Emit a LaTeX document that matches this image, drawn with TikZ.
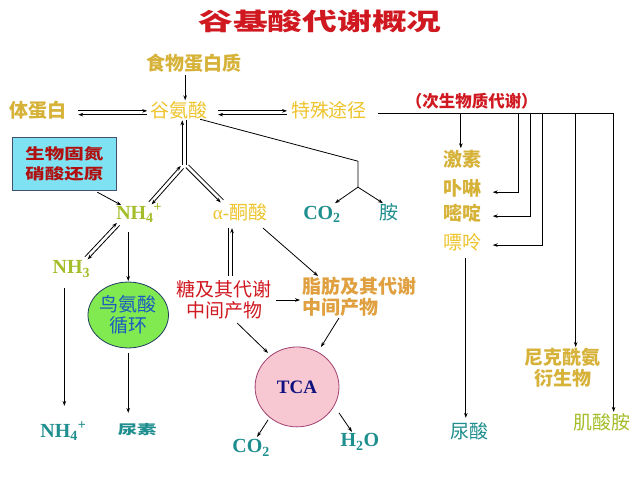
\documentclass[tikz,border=0pt]{standalone}
\usepackage{fontspec}
\setmainfont{Liberation Serif}
\newfontfamily\cjk{Noto Sans CJK SC}
\usetikzlibrary{arrows.meta,calc,shapes.geometric}
\definecolor{goldc}{HTML}{D6B238}
\definecolor{yelc}{HTML}{EEC42C}
\definecolor{tealc}{HTML}{1E8E8E}
\definecolor{limec}{HTML}{A4BE2A}
\definecolor{redc}{HTML}{D01820}
\definecolor{orgc}{HTML}{E0A040}
\definecolor{boxfill}{HTML}{7EE2F2}
\definecolor{boxline}{HTML}{405070}
\definecolor{ellfill}{HTML}{80EA50}
\definecolor{ellline}{HTML}{203C60}
\definecolor{bluec}{HTML}{1C5CC0}
\definecolor{tcafill}{HTML}{F8C8D2}
\definecolor{tcaline}{HTML}{A04070}
\definecolor{navyc}{HTML}{101080}
\definecolor{darkred}{HTML}{B01010}
\newcommand\dbl[4]{%
  \draw[#3] ($(#1)!1.9pt!90:(#2)$) -- ($(#2)!1.9pt!-90:(#1)$);
  \draw[#4] ($(#1)!1.9pt!-90:(#2)$) -- ($(#2)!1.9pt!90:(#1)$);}
\begin{document}
\begin{tikzpicture}[x=1pt,y=-1pt,
  >={Stealth[length=5pt,width=3.6pt]},
  every path/.style={line width=0.8pt,draw=black},
  lbl/.style={inner sep=0pt,align=center},
  cg/.style={lbl,text=goldc,font=\cjk\bfseries\fontsize{19}{21}\selectfont},
  cy/.style={lbl,text=yelc,font=\cjk\fontsize{19}{21}\selectfont},
  ct/.style={lbl,text=tealc,font=\cjk\fontsize{19}{21}\selectfont},
  cl/.style={lbl,text=limec,font=\cjk\fontsize{19}{21}\selectfont},
  st/.style={lbl,text=tealc,font=\rmfamily\bfseries\fontsize{20}{22}\selectfont},
  sl/.style={lbl,text=limec,font=\rmfamily\bfseries\fontsize{20}{22}\selectfont}]
\useasboundingbox (0,0) rectangle (640,480);
\fill[white] (0,0) rectangle (640,480);

% title
\node[lbl,text=redc,font=\cjk\bfseries\fontsize{24}{26}\selectfont] (title) at (320,21) {\scalebox{1.45}[1]{谷基酸代谢概况}};

% top row
\node[cg] (food) at (194,63) {食物蛋白质};
\node[cy] (glu) at (179,110) {谷氨酸};
\node[cg] (tdb) at (38,110) {体蛋白};
\node[cy] (tszj) at (329,110) {特殊途径};
\node[lbl,text=redc,font=\cjk\bfseries\fontsize{16.5}{18}\selectfont] (cisheng) at (472,101) {（次生物质代谢）};

% box
\node[draw=boxline,fill=boxfill,line width=0.8pt,minimum width=104pt,minimum height=53pt,inner sep=0pt,
      text=darkred,align=center,font=\cjk\bfseries\fontsize{15}{20}\selectfont] (box) at (64,163.5)
      {\scalebox{1.3}[1]{生物固氮}\\\scalebox{1.3}[1]{硝酸还原}};

% second row
\node[sl] (nh4) at (139,213) {NH\textsubscript{4}\textsuperscript{+}};
\node[lbl,text=yelc,font=\fontsize{19}{21}\selectfont] (alpha) at (240,212) {α-{\cjk 酮酸}};
\node[st] (co2a) at (322,214) {CO\textsubscript{2}};
\node[ct] (amine) at (389,212) {胺};

% right column
\node[cg] (jisu) at (463,159) {激素};
\node[cg] (buling) at (463,188) {卟啉};
\node[cg] (miding) at (463,213) {嘧啶};
\node[cy] (piao) at (463,242) {嘌呤};
\node[ct] (niaosuan) at (470,431) {尿酸};
\node[cg] (nike) at (563,368) {尼克酰氨\\衍生物};
\node[cl] (jisuan) at (602,422) {肌酸胺};

% left part
\node[sl] (nh3) at (71,269) {NH\textsubscript{3}};
\node[draw=ellline,fill=ellfill,ellipse,line width=0.8pt,minimum width=77pt,minimum height=66pt,inner sep=0pt,
      text=bluec,align=center,font=\cjk\fontsize{19}{21}\selectfont] (orn) at (128,315) {鸟氨酸\\循环};
\node[st] (nh4b) at (63,431) {NH\textsubscript{4}\textsuperscript{+}};
\node[lbl,text=tealc,font=\cjk\bfseries\fontsize{13}{15}\selectfont] (niaosu) at (137,430) {\scalebox{1.5}[1]{尿素}};

% middle
\node[lbl,text=redc,font=\cjk\fontsize{19}{21}\selectfont] (tang) at (224,300) {糖及其代谢\\中间产物};
\node[lbl,text=orgc,align=left,anchor=west,font=\cjk\bfseries\fontsize{19}{21}\selectfont] (zhi) at (302,297) {脂肪及其代谢\\中间产物};
\node[draw=tcaline,fill=tcafill,ellipse,line width=0.8pt,minimum width=84pt,minimum height=80pt,inner sep=0pt,
      text=navyc,font=\rmfamily\bfseries\fontsize{19}{21}\selectfont] (tca) at (297,387) {TCA};
\node[st] (co2b) at (251,448) {CO\textsubscript{2}};
\node[st] (h2o) at (360,442) {H\textsubscript{2}O};

% coordinates
\coordinate (f1) at (185,75);   \coordinate (g1) at (185,100);
\coordinate (tl) at (78,112.5); \coordinate (tr) at (147,112.5);
\coordinate (sl) at (218,112.5);\coordinate (sr) at (287,112.5);
\coordinate (gtop) at (184,120);\coordinate (gbr) at (184,165);
\coordinate (nhA) at (182,167); \coordinate (nhB) at (150,203);
\coordinate (alA) at (187,166); \coordinate (alB) at (222,201);
\coordinate (am0) at (200,119); \coordinate (am1) at (358,161); \coordinate (am2) at (358,187);
\coordinate (am3) at (335,203); \coordinate (am4) at (383,203);
\coordinate (bx) at (97,192);   \coordinate (bxe) at (121,205);
\coordinate (n3A) at (118,224); \coordinate (n3B) at (86,258);
\coordinate (or0) at (128,232); \coordinate (or1) at (128,281);
\coordinate (or2) at (128,353); \coordinate (or3) at (128,413);
\coordinate (n30) at (64,288);  \coordinate (n31) at (64,406);
\coordinate (alv0) at (230,228);\coordinate (alv1) at (230,276);
\coordinate (alz0) at (263,228);\coordinate (alz1) at (318,276);
\coordinate (tz0) at (276,300); \coordinate (tz1) at (300,300);
\coordinate (tt0) at (237,323); \coordinate (tt1) at (268,353);
\coordinate (zt0) at (339,318); \coordinate (zt1) at (321,347);
\coordinate (tc0) at (268,420); \coordinate (tc1) at (257,437);
\coordinate (th0) at (339,413); \coordinate (th1) at (352,432);
\coordinate (sp0) at (378,113); \coordinate (sp1) at (614,113);
\coordinate (p0) at (466,258);  \coordinate (p1) at (466,418);

% connectors
\draw[->] (f1) -- (g1);
\dbl{tl}{tr}{->}{<-}
\dbl{sl}{sr}{->}{<-}
\dbl{gbr}{gtop}{->}{}
\dbl{nhA}{nhB}{->}{<-}
\dbl{alA}{alB}{}{->}
\draw (am0) -- (am1) -- (am2);
\draw[->] (am2) -- (am3);
\draw[->] (am2) -- (am4);
\draw[->] (bx) -- (bxe);
\dbl{n3A}{n3B}{->}{<-}
\draw[->] (or0) -- (or1);
\draw[->] (or2) -- (or3);
\draw[->] (n30) -- (n31);
\dbl{alv1}{alv0}{}{->}
\draw[->] (alz0) -- (alz1);
\draw[->] (tz0) -- (tz1);
\draw[->] (tt0) -- (tt1);
\draw[->] (zt0) -- (zt1);
\draw[->] (tc0) -- (tc1);
\draw[->] (th0) -- (th1);
\draw (sp0) -- (sp1);
\draw[->] (461,113) -- (461,148);
\draw[->] (519,113) -- (519,192) -- (493,192);
\draw[->] (531,113) -- (531,216) -- (493,216);
\draw[->] (543,113) -- (543,245) -- (493,245);
\draw[->] (576,113) -- (576,347);
\draw[->] (614,113) -- (614,412);
\draw[->] (p0) -- (p1);
\end{tikzpicture}
\end{document}
